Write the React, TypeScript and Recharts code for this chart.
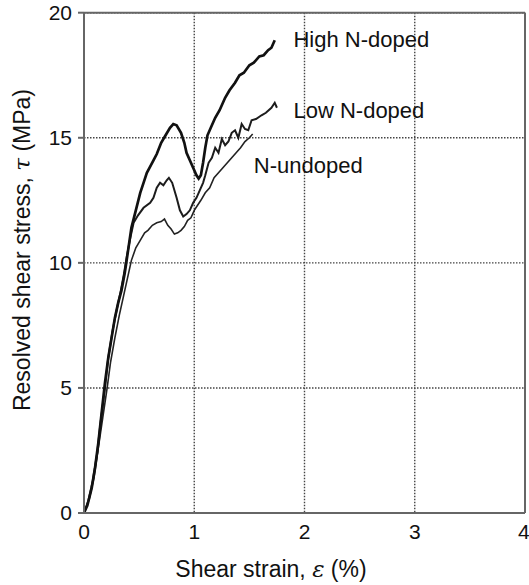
import { LineChart, Line, XAxis, YAxis, CartesianGrid, ReferenceLine, ReferenceDot } from 'recharts'

const highStrain = [0, 0.03, 0.07, 0.1, 0.13, 0.16, 0.19, 0.22, 0.25, 0.28, 0.31, 0.34, 0.37, 0.4, 0.43, 0.47, 0.51, 0.54, 0.57, 0.6, 0.63, 0.66, 0.7, 0.74, 0.78, 0.81, 0.84, 0.88, 0.91, 0.93, 0.96, 0.99, 1.02, 1.04, 1.06, 1.08, 1.1, 1.12, 1.15, 1.19, 1.23, 1.28, 1.32, 1.37, 1.41, 1.45, 1.5, 1.54, 1.59, 1.63, 1.67, 1.7, 1.73]
const highStress = [0, 0.3, 1.0, 1.8, 2.8, 4.0, 5.2, 6.2, 7.0, 7.8, 8.4, 8.9, 9.6, 10.5, 11.4, 12.1, 12.8, 13.2, 13.6, 13.85, 14.1, 14.35, 14.8, 15.1, 15.4, 15.55, 15.5, 15.2, 14.8, 14.4, 14.1, 13.8, 13.5, 13.37, 13.5, 14.0, 14.6, 15.1, 15.4, 15.8, 16.1, 16.6, 16.9, 17.2, 17.5, 17.6, 17.9, 18.0, 18.25, 18.3, 18.5, 18.6, 18.9]

const lowStrain = [0, 0.04, 0.08, 0.12, 0.15, 0.19, 0.22, 0.26, 0.3, 0.33, 0.36, 0.39, 0.42, 0.45, 0.49, 0.54, 0.6, 0.63, 0.66, 0.69, 0.72, 0.75, 0.77, 0.8, 0.84, 0.87, 0.9, 0.93, 0.96, 0.99, 1.02, 1.05, 1.08, 1.1, 1.13, 1.16, 1.19, 1.22, 1.25, 1.28, 1.31, 1.34, 1.37, 1.4, 1.43, 1.46, 1.49, 1.52, 1.56, 1.61, 1.65, 1.7, 1.73, 1.75]
const lowStress = [0, 0.5, 1.3, 2.4, 3.6, 5.0, 6.2, 7.3, 8.2, 8.8, 9.5, 10.3, 11.0, 11.6, 11.9, 12.2, 12.4, 12.6, 13.0, 13.2, 13.1, 13.3, 13.4, 13.2, 12.6, 12.1, 11.85, 11.95, 12.1, 12.4, 12.6, 12.9, 13.2, 13.5, 14.0, 14.2, 14.6, 14.4, 14.95, 14.7, 14.85, 15.2, 15.3, 15.0, 15.55, 15.35, 15.3, 15.7, 15.75, 15.9, 16.0, 16.2, 16.4, 16.2]

const undopedStrain = [0, 0.05, 0.09, 0.13, 0.17, 0.21, 0.24, 0.28, 0.32, 0.36, 0.4, 0.43, 0.47, 0.51, 0.55, 0.58, 0.62, 0.66, 0.7, 0.73, 0.76, 0.79, 0.82, 0.85, 0.88, 0.91, 0.94, 0.97, 1.0, 1.03, 1.06, 1.1, 1.14, 1.18, 1.22, 1.26, 1.3, 1.34, 1.38, 1.42, 1.46, 1.5, 1.53]
const undopedStress = [0, 0.6, 1.4, 2.6, 3.8, 5.0, 6.0, 7.0, 7.9, 8.7, 9.5, 10.1, 10.6, 10.9, 11.2, 11.3, 11.5, 11.6, 11.65, 11.75, 11.5, 11.35, 11.15, 11.2, 11.3, 11.45, 11.7, 11.8, 12.1, 12.3, 12.5, 12.8, 13.0, 13.4, 13.6, 13.8, 14.0, 14.2, 14.4, 14.6, 14.85, 15.0, 15.15]

const xTicks = [0, 1, 2, 3, 4]
const yTicks = [0, 5, 10, 15, 20]

// where each curve name sits (strain, stress at text baseline)
const curveLabels = [
  { text: 'High N-doped', x: 1.9, y: 18.64 },
  { text: 'Low N-doped', x: 1.9, y: 15.8 },
  { text: 'N-undoped', x: 1.54, y: 13.58 },
]

const zip = (xs: number[], ys: number[]) => xs.map((x, i) => ({ x, y: ys[i] }))

const FONT = '"Liberation Sans", Arial, Helvetica, sans-serif'
const AXIS = '#666'

export default function App() {
  return (
    <div style={{ position: 'absolute', left: 0, top: 0, background: '#fff' }}>
      <LineChart width={529} height={585} margin={{ top: 12.7, right: 4, left: 0, bottom: 0 }}>
        <CartesianGrid stroke="#444" strokeWidth={1.4} strokeDasharray="1.5 1.5" />
        <XAxis
          type="number"
          dataKey="x"
          domain={[0, 4]}
          ticks={xTicks}
          height={72}
          stroke={AXIS}
          strokeWidth={2}
          tickLine={false}
          tickSize={6}
          tickMargin={5}
          tick={{ fill: '#111', fontSize: 21, fontFamily: FONT }}
          label={{
            content: () => (
              <text x={271} y={577} textAnchor="middle" fill="#111" fontSize={23} fontFamily={FONT}>
                Shear strain, <tspan fontStyle="italic" fontFamily="'DejaVu Serif', serif">ε</tspan> (%)
              </text>
            ),
          }}
        />
        <YAxis
          type="number"
          domain={[0, 20]}
          ticks={yTicks}
          width={84}
          stroke={AXIS}
          strokeWidth={2}
          tickSize={6}
          tickMargin={6}
          tick={{ fill: '#111', fontSize: 21, fontFamily: FONT }}
          label={{
            content: () => (
              <text
                x={29.5}
                y={250}
                transform="rotate(-90 29.5 250)"
                textAnchor="middle"
                fill="#111"
                fontSize={23}
                fontFamily={FONT}
              >
                Resolved shear stress, <tspan fontStyle="italic" fontFamily="'DejaVu Serif', serif">τ</tspan> (MPa)
              </text>
            ),
          }}
        />
        <ReferenceLine y={20} stroke={AXIS} strokeWidth={2} />
        <ReferenceLine x={4} stroke={AXIS} strokeWidth={2} />
        <Line data={zip(undopedStrain, undopedStress)} dataKey="y" type="linear" stroke="#222" strokeWidth={1.6} dot={false} isAnimationActive={false} />
        <Line data={zip(lowStrain, lowStress)} dataKey="y" type="linear" stroke="#1c1c1c" strokeWidth={2} dot={false} isAnimationActive={false} />
        <Line data={zip(highStrain, highStress)} dataKey="y" type="linear" stroke="#111" strokeWidth={2.7} dot={false} isAnimationActive={false} />
        {curveLabels.map((l) => (
          <ReferenceDot
            key={l.text}
            x={l.x}
            y={l.y}
            r={1}
            fill="none"
            stroke="none"
            ifOverflow="visible"
            label={{
              content: (props: any) => (
                <text
                  x={props.viewBox.x + 1}
                  y={props.viewBox.y + 1}
                  fill="#111"
                  fontSize={22}
                  fontFamily={FONT}
                >
                  {l.text}
                </text>
              ),
            }}
          />
        ))}
      </LineChart>
    </div>
  )
}
